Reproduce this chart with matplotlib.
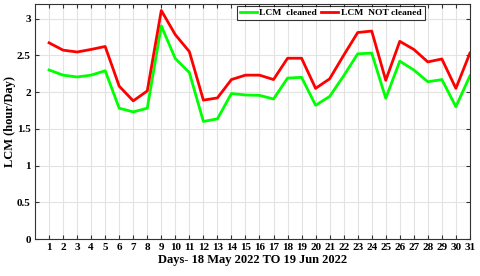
import matplotlib
matplotlib.use('Agg')
import matplotlib.pyplot as plt

# ── data ──
days = list(range(1, 32))
lcm_cleaned = [2.30, 2.23, 2.205, 2.23, 2.29, 1.78, 1.73, 1.78, 2.90, 2.455,
               2.265, 1.60, 1.635, 1.98, 1.96, 1.955, 1.905, 2.19, 2.20, 1.82,
               1.94, 2.22, 2.52, 2.53, 1.915, 2.42, 2.30, 2.14, 2.17, 1.80, 2.22]
lcm_not_cleaned = [2.67, 2.57, 2.545, 2.58, 2.62, 2.08, 1.88, 2.015, 3.11, 2.78,
                   2.55, 1.89, 1.92, 2.17, 2.23, 2.23, 2.17, 2.46, 2.46, 2.05,
                   2.18, 2.50, 2.81, 2.83, 2.16, 2.69, 2.58, 2.41, 2.45, 2.05, 2.53]

plt.rcParams['font.family'] = ['Liberation Serif', 'DejaVu Serif']
plt.rcParams['font.weight'] = 'bold'

fig = plt.figure(figsize=(4.8, 2.76), dpi=100)
ax = fig.add_axes([0.073, 0.134, 0.906, 0.852])

ax.plot(days, lcm_cleaned, color='#00ff00', lw=2, label='LCM  cleaned')
ax.plot(days, lcm_not_cleaned, color='#ff0000', lw=2, label='LCM  NOT cleaned')

ax.set_xlim(0, 31)
ax.set_ylim(0, 3.2)
ax.set_xticks(days)
ax.set_yticks([0, 0.5, 1, 1.5, 2, 2.5, 3])
ax.set_yticklabels(['0', '0.5', '1', '1.5', '2', '2.5', '3'])
ax.tick_params(direction='in', top=True, right=True, labelsize=8, length=3,
               color='#333333', pad=3)
ax.grid(True, color='#e3e3e3', lw=0.8)
ax.set_axisbelow(True)
for s in ax.spines.values():
    s.set_color('#333333')
    s.set_linewidth(0.8)

ax.set_xlabel('Days- 18 May 2022 TO 19 Jun 2022', fontsize=9, fontweight='bold', labelpad=1)
ax.set_ylabel('LCM (hour/Day)', fontsize=9, fontweight='bold', labelpad=1)

leg = ax.legend(loc='upper right', bbox_to_anchor=(0.9, 1.0), ncol=2, fontsize=6.8,
                frameon=True, fancybox=False, borderpad=0.3, handlelength=1.8,
                columnspacing=0.4, handletextpad=0.3, borderaxespad=0.2)
leg.get_frame().set_edgecolor('black')
leg.get_frame().set_linewidth(0.8)

fig.savefig('out.png', dpi=100)
